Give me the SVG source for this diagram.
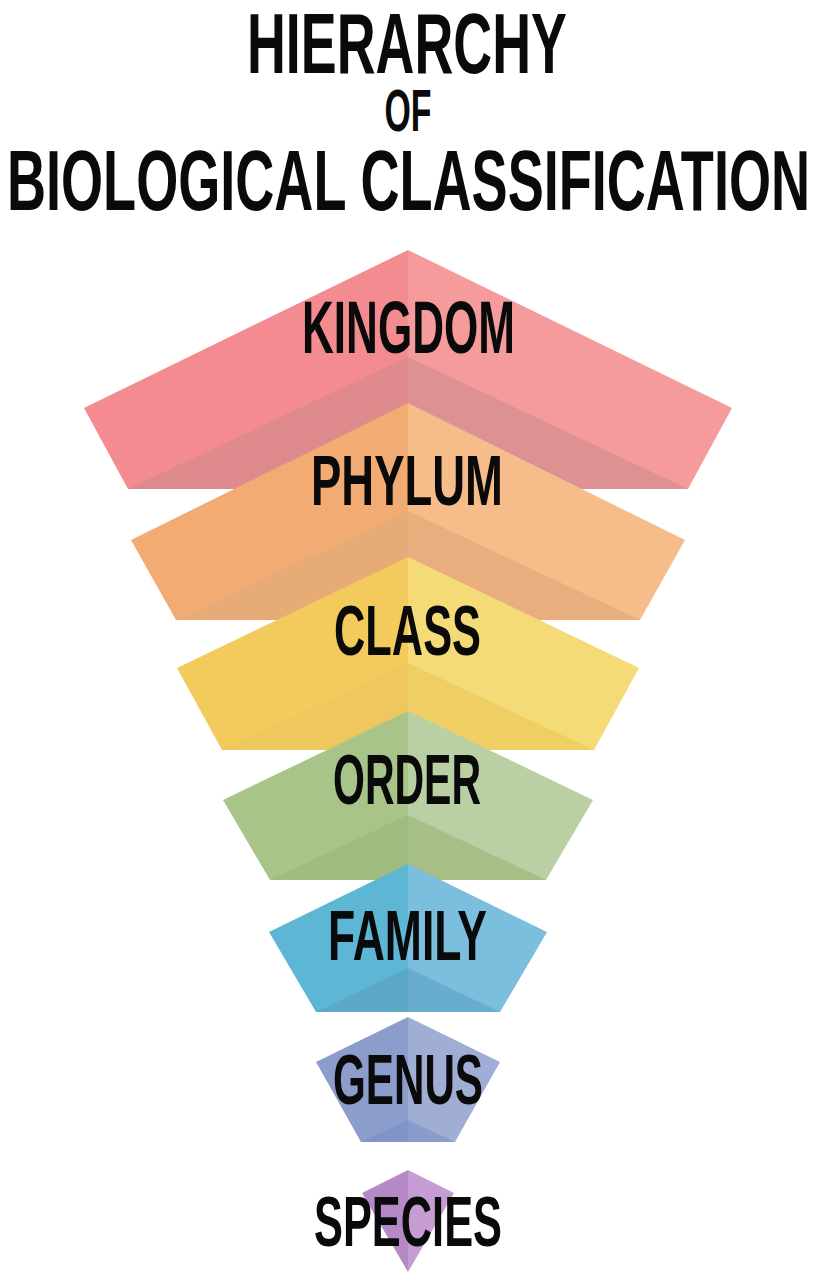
<svg xmlns="http://www.w3.org/2000/svg" width="818" height="1276" viewBox="0 0 818 1276">
<style>
.t{font-family:"Liberation Sans",Arial,sans-serif;font-weight:bold;fill:#0a0a0a;text-anchor:middle}
</style>
<rect width="818" height="1276" fill="#ffffff"/>
<g id="title">
<text class="t" x="407" y="73" font-size="85" textLength="320" lengthAdjust="spacingAndGlyphs">HIERARCHY</text>
<text class="t" x="408" y="131" font-size="60" textLength="47" lengthAdjust="spacingAndGlyphs">OF</text>
<text class="t" x="408.5" y="210" font-size="86" textLength="803" lengthAdjust="spacingAndGlyphs">BIOLOGICAL CLASSIFICATION</text>
</g>
<g id="connectors"/>
<g id="kingdom">
<polygon points="408,250 84,408 128,489 408,489" fill="#F38B90"/>
<polygon points="408,250 732,408 688,489 408,489" fill="#F59B9B"/>
<polygon points="128,489 408,357 408,489" fill="#DF8A8D"/>
<polygon points="688,489 408,357 408,489" fill="#DD9193"/>
<text class="t" x="408.5" y="353" font-size="74" textLength="213" lengthAdjust="spacingAndGlyphs">KINGDOM</text>
</g>
<g id="phylum">
<polygon points="408,403 131,540 176,620 408,620" fill="#F3AB74"/>
<polygon points="408,403 685,540 640,620 408,620" fill="#F6BC8A"/>
<polygon points="176,620 408,511 408,620" fill="#E7AB77"/>
<polygon points="640,620 408,511 408,620" fill="#E9AE7E"/>
<text class="t" x="407" y="505" font-size="70" textLength="192" lengthAdjust="spacingAndGlyphs">PHYLUM</text>
</g>
<g id="class">
<polygon points="408,557 177,668 222,750 408,750" fill="#F3CB5C"/>
<polygon points="408,557 639,668 594,750 408,750" fill="#F5DB77"/>
<polygon points="222,750 408,663 408,750" fill="#EEC85E"/>
<polygon points="594,750 408,663 408,750" fill="#EFCE64"/>
<text class="t" x="407.5" y="655" font-size="70" textLength="147" lengthAdjust="spacingAndGlyphs">CLASS</text>
</g>
<g id="order">
<polygon points="408,711 223,800 270,880 408,880" fill="#A8C488"/>
<polygon points="408,711 593,800 546,880 408,880" fill="#BAD0A4"/>
<polygon points="270,880 408,815 408,880" fill="#A0BC80"/>
<polygon points="546,880 408,815 408,880" fill="#A6BF86"/>
<text class="t" x="407" y="804" font-size="70" textLength="148" lengthAdjust="spacingAndGlyphs">ORDER</text>
</g>
<g id="family">
<polygon points="408,864 269,932 316,1012 408,1012" fill="#5DB6D3"/>
<polygon points="408,864 547,932 500,1012 408,1012" fill="#7CBEDD"/>
<polygon points="316,1012 408,968 408,1012" fill="#5BA8C9"/>
<polygon points="500,1012 408,968 408,1012" fill="#68ADCF"/>
<text class="t" x="407.5" y="960" font-size="70" textLength="159" lengthAdjust="spacingAndGlyphs">FAMILY</text>
</g>
<g id="genus">
<polygon points="408,1017 316,1062 361,1142 408,1142" fill="#8C9DCC"/>
<polygon points="408,1017 500,1062 455,1142 408,1142" fill="#A0AED6"/>
<polygon points="361,1142 408,1120 408,1142" fill="#8094C8"/>
<polygon points="455,1142 408,1120 408,1142" fill="#8A9CCC"/>
<text class="t" x="408" y="1104" font-size="70" textLength="150" lengthAdjust="spacingAndGlyphs">GENUS</text>
</g>
<g id="species">
<polygon points="408,1170 362,1193 408,1272" fill="#B489C6"/>
<polygon points="408,1170 454,1193 408,1272" fill="#C59DD2"/>
<text class="t" x="408" y="1246" font-size="70" textLength="188" lengthAdjust="spacingAndGlyphs">SPECIES</text>
</g>
</svg>
